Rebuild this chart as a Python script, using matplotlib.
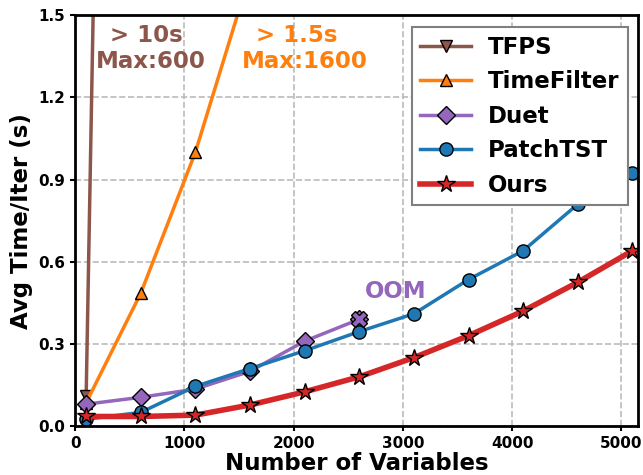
import matplotlib

matplotlib.use("Agg")
import matplotlib.pyplot as plt

plt.rcParams["font.family"] = "DejaVu Sans"
plt.rcParams["font.weight"] = "bold"

num_vars = [100, 600, 1100, 1600, 2100, 2600, 3100, 3600, 4100, 4600, 5100]

tfps_x = [100, 600]
tfps_y = [0.11, 11.0]
timefilter_x = [100, 600, 1100, 1600]
timefilter_y = [0.085, 0.485, 1.0, 1.65]
duet_x = [100, 600, 1100, 1600, 2100, 2600]
duet_y = [0.08, 0.105, 0.135, 0.20, 0.31, 0.39]
patchtst_y = [0.025, 0.05, 0.145, 0.21, 0.275, 0.345, 0.41, 0.535, 0.64, 0.81, 0.925]
ours_y = [0.035, 0.035, 0.04, 0.077, 0.125, 0.18, 0.25, 0.33, 0.42, 0.525, 0.64]

fig = plt.figure(figsize=(6.43, 4.75), dpi=100)
ax = fig.add_axes([0.117, 0.103, 0.875, 0.865])

ax.plot(tfps_x, tfps_y, color="tab:brown", lw=2.5, marker="v", ms=9,
        mec="black", label="TFPS")
ax.plot(timefilter_x, timefilter_y, color="tab:orange", lw=2.5, marker="^", ms=9,
        mec="black", label="TimeFilter")
ax.plot(duet_x, duet_y, color="tab:purple", lw=2.5, marker="D", ms=9,
        mec="black", label="Duet")
ax.plot(num_vars, patchtst_y, color="tab:blue", lw=2.5, marker="o", ms=9.5,
        mec="black", label="PatchTST")
ax.plot(num_vars, ours_y, color="tab:red", lw=4, marker="*", ms=13,
        mec="black", label="Ours")
ax.plot([duet_x[-1]], [duet_y[-1]], marker="X", ms=11, color="tab:purple",
        mec="black", ls="none")

note_kw = dict(fontsize=16.5, fontweight="bold", ha="center", va="center")
ax.text(650, 1.427, "> 10s", color="tab:brown", **note_kw)
ax.text(690, 1.33, "Max:600", color="tab:brown", **note_kw)
ax.text(2030, 1.427, "> 1.5s", color="tab:orange", **note_kw)
ax.text(2100, 1.33, "Max:1600", color="tab:orange", **note_kw)
ax.text(2930, 0.49, "OOM", color="tab:purple", **note_kw)

ax.set_xlim(0, 5150)
ax.set_ylim(0, 1.5)
ax.set_xticks([0, 1000, 2000, 3000, 4000, 5000])
ax.set_yticks([0.0, 0.3, 0.6, 0.9, 1.2, 1.5])
ax.tick_params(labelsize=11, width=1.5)
for lbl in ax.get_xticklabels() + ax.get_yticklabels():
    lbl.set_fontweight("bold")
for s in ax.spines.values():
    s.set_linewidth(2)
ax.grid(True, ls="--", color="#bbbbbb", lw=1.2)
ax.set_xlabel("Number of Variables", fontsize=16.5, fontweight="bold", labelpad=1)
ax.set_ylabel("Avg Time/Iter (s)", fontsize=16.5, fontweight="bold")

leg = ax.legend(loc="upper right", prop={"size": 16.5, "weight": "bold"},
                edgecolor="gray", fancybox=False, framealpha=1,
                handlelength=2.2, handletextpad=0.75, labelspacing=0.5,
                borderpad=0.38, borderaxespad=0,
                bbox_to_anchor=(0.983, 0.971))
leg.get_frame().set_linewidth(1.5)

fig.savefig("out.png", dpi=100)
